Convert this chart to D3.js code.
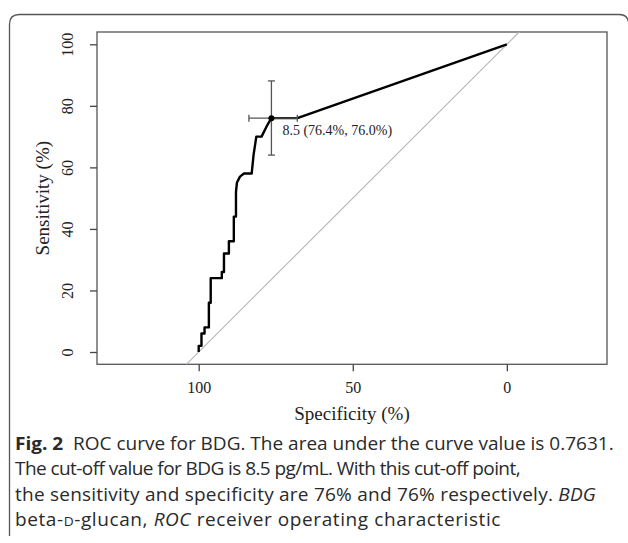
<!DOCTYPE html>
<html>
<head>
<meta charset="utf-8">
<script src="https://cdn.jsdelivr.net/npm/d3@7"></script>
<style>
  body { margin: 0; background: #fff; }
  svg { display: block; }
</style>
</head>
<body>
<svg id="chart" width="628" height="543"></svg>
<script>
// ROC curve points (specificity %, sensitivity %)
var specificity = [100, 100, 99.1, 99.1, 98.1, 98.1, 96.7, 96.7, 96.1, 96.1, 92.5, 92.5, 91.8, 91.8,
                   90.2, 90.2, 88.6, 88.6, 87.9, 87.9, 87.6, 86.6, 85.3, 82.8, 82.2, 81.3, 79.6, 77.6, 76.4, 68.0, 0];
var sensitivity = [0, 2, 2, 6, 6, 8, 8, 16, 16, 24, 24, 26, 26, 32,
                   32, 36, 36, 44, 44, 52, 55, 57, 58, 58, 64, 70, 70, 74, 76, 76, 100];

// chance line
var diagSpec = [104, -4];
var diagSens = [-4, 104];

// best cut-off with its confidence intervals
var cutSpec = 76.4, cutSens = 76.0;
var cutSpecCI = [83.7, 68.0];
var cutSensCI = [64.0, 88.1];
var cutLabel = "8.5 (76.4%, 76.0%)";

var xTicks = [100, 50, 0];
var yTicks = [0, 20, 40, 60, 80, 100];

var svg = d3.select("#chart");

// card border of the figure
svg.append("path")
  .attr("d", "M9.5,536 V24 Q9.5,14.5 19.5,14.5 H619 Q627.5,14.5 628.5,22")
  .attr("fill", "none")
  .attr("stroke", "#555")
  .attr("stroke-width", 1.3);

var pLeft = 97, pRight = 607, pTop = 32, pBottom = 364.3;
var x = d3.scaleLinear().domain([133, -32.5]).range([pLeft, pRight]);
var y = d3.scaleLinear().domain([-4, 104]).range([pBottom, pTop]);

var serif = "'Liberation Serif', 'Times New Roman', serif";

// plot box
svg.append("rect")
  .attr("x", pLeft).attr("y", pTop)
  .attr("width", pRight - pLeft).attr("height", pBottom - pTop)
  .attr("fill", "none")
  .attr("stroke", "#555")
  .attr("stroke-width", 1.3);

// x axis
var gx = svg.append("g")
  .attr("transform", "translate(0," + pBottom + ")")
  .call(d3.axisBottom(x).tickValues(xTicks).tickSize(7).tickPadding(4).tickFormat(d3.format("d")));
gx.select(".domain").remove();
gx.selectAll("line").attr("stroke", "#444").attr("stroke-width", 1.3);
gx.selectAll("text")
  .attr("y", 29).attr("dy", null)
  .style("font-family", serif).style("font-size", "16px").attr("fill", "#222");

// y axis with rotated labels
var gy = svg.append("g")
  .attr("transform", "translate(" + pLeft + ",0)")
  .call(d3.axisLeft(y).tickValues(yTicks).tickSize(7).tickFormat(d3.format("d")));
gy.select(".domain").remove();
gy.selectAll("line").attr("stroke", "#444").attr("stroke-width", 1.3);
gy.selectAll("text")
  .attr("x", 0).attr("y", -24).attr("dy", null)
  .attr("transform", "rotate(-90)")
  .attr("text-anchor", "middle")
  .style("font-family", serif).style("font-size", "16px").attr("fill", "#222");

// axis titles
svg.append("text")
  .attr("x", (pLeft + pRight) / 2).attr("y", 420)
  .attr("text-anchor", "middle")
  .style("font-family", serif).style("font-size", "19px").attr("fill", "#222")
  .text("Specificity (%)");
svg.append("text")
  .attr("transform", "translate(49," + (pTop + pBottom) / 2 + ") rotate(-90)")
  .attr("text-anchor", "middle")
  .style("font-family", serif).style("font-size", "19px").attr("fill", "#222")
  .text("Sensitivity (%)");

// diagonal
svg.append("line")
  .attr("x1", x(diagSpec[0])).attr("y1", y(diagSens[0]))
  .attr("x2", x(diagSpec[1])).attr("y2", y(diagSens[1]))
  .attr("stroke", "#b5b5b5").attr("stroke-width", 1.1);

// ROC curve
var pts = specificity.map(function(s, i) { return [s, sensitivity[i]]; });
svg.append("path")
  .datum(pts)
  .attr("fill", "none")
  .attr("stroke", "#000")
  .attr("stroke-width", 2.4)
  .attr("stroke-linejoin", "round")
  .attr("d", d3.line().x(function(d) { return x(d[0]); }).y(function(d) { return y(d[1]); }));

// confidence interval bars at cut-off
var cap = 3.5;
var ci = svg.append("g").attr("stroke", "#555").attr("stroke-width", 1.3);
ci.append("line")
  .attr("x1", x(cutSpec)).attr("x2", x(cutSpec))
  .attr("y1", y(cutSensCI[0])).attr("y2", y(cutSensCI[1]));
cutSensCI.forEach(function(v) {
  ci.append("line")
    .attr("x1", x(cutSpec) - cap).attr("x2", x(cutSpec) + cap)
    .attr("y1", y(v)).attr("y2", y(v));
});
ci.append("line")
  .attr("x1", x(cutSpecCI[0])).attr("x2", x(cutSpecCI[1]))
  .attr("y1", y(cutSens)).attr("y2", y(cutSens));
cutSpecCI.forEach(function(v) {
  ci.append("line")
    .attr("x1", x(v)).attr("x2", x(v))
    .attr("y1", y(cutSens) - cap).attr("y2", y(cutSens) + cap);
});

svg.append("circle")
  .attr("cx", x(cutSpec)).attr("cy", y(cutSens)).attr("r", 3)
  .attr("fill", "#000");
svg.append("text")
  .attr("x", x(cutSpec) + 11).attr("y", y(cutSens) + 17)
  .style("font-family", serif).style("font-size", "14px").attr("fill", "#222")
  .text(cutLabel);

// caption: one horizontal squeeze for all lines, letter-spacing fits each line end
var sans = "'Open Sans', 'Noto Sans', sans-serif";
var capG = svg.append("g").style("font-family", sans).style("font-size", "18px").attr("fill", "#2a2a2a");
var capX = 15;

var l1 = capG.append("text").attr("x", 0).attr("y", 450);
l1.append("tspan").style("font-weight", "bold").text("Fig. 2");
l1.append("tspan").text("\u00a0\u00a0ROC curve for BDG. The area under the curve value is 0.7631.");
var l2 = capG.append("text").attr("x", 0).attr("y", 475.5)
  .text("The cut-off value for BDG is 8.5 pg/mL. With this cut-off point,");
var l3 = capG.append("text").attr("x", 0).attr("y", 501);
l3.append("tspan").text("the sensitivity and specificity are 76% and 76% respectively. ");
l3.append("tspan").style("font-style", "italic").text("BDG");
var l4 = capG.append("text").attr("x", 0).attr("y", 526.5);
l4.append("tspan").text("beta-");
l4.append("tspan").style("font-size", "13px").text("D");
l4.append("tspan").text("-glucan, ");
l4.append("tspan").style("font-style", "italic").text("ROC");
l4.append("tspan").text(" receiver operating characteristic");

var sx = (614 - capX) / l1.node().getComputedTextLength();
capG.attr("transform", "translate(" + capX + ",0) scale(" + sx + ",1)");
[[l2, 520], [l3, 596], [l4, 501]].forEach(function(p) {
  var node = p[0].node();
  var w = node.getComputedTextLength();
  var n = node.textContent.length;
  var ls = ((p[1] - capX) / sx - w) / n;
  p[0].style("letter-spacing", ls + "px");
});
</script>
</body>
</html>
